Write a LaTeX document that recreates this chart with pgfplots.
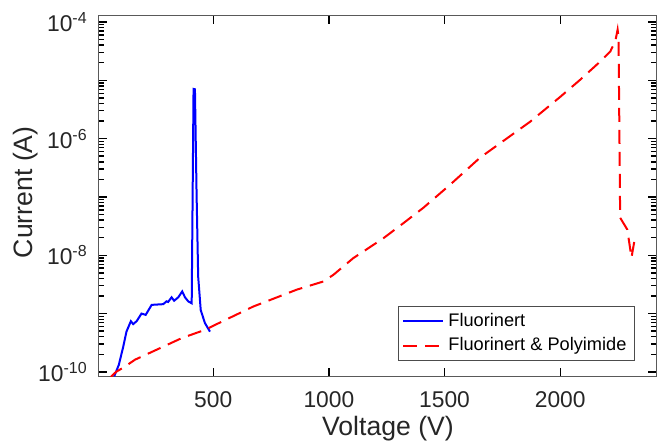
\documentclass[border=0pt]{standalone}
\usepackage{pgfplots}
\pgfplotsset{compat=1.18}
\usepackage{fontspec}
\setmainfont{Liberation Sans}
\definecolor{axgray}{RGB}{38,38,38}
\definecolor{mblue}{RGB}{0,0,255}
\definecolor{mred}{RGB}{255,0,0}
\begin{document}
\begin{tikzpicture}
\begin{axis}[name=ax,
  scale only axis, width=278.65pt, height=180.15pt,
  ymode=log,
  xmin=5, xmax=2414, ymin=8.5e-11, ymax=1.28e-4,
  xtick={500,1000,1500,2000},
  ytick={1e-10,1e-9,1e-8,1e-7,1e-6,1e-5,1e-4},
  yticklabels={10\textsuperscript{-10},,10\textsuperscript{-8},,10\textsuperscript{-6},,10\textsuperscript{-4}},
  minor ytick={2e-10,3e-10,4e-10,5e-10,6e-10,7e-10,8e-10,9e-10,
    2e-9,3e-9,4e-9,5e-9,6e-9,7e-9,8e-9,9e-9,
    2e-8,3e-8,4e-8,5e-8,6e-8,7e-8,8e-8,9e-8,
    2e-7,3e-7,4e-7,5e-7,6e-7,7e-7,8e-7,9e-7,
    2e-6,3e-6,4e-6,5e-6,6e-6,7e-6,8e-6,9e-6,
    2e-5,3e-5,4e-5,5e-5,6e-5,7e-5,8e-5,9e-5},
  /pgf/number format/assume math mode=true,
  /pgf/number format/1000 sep={},
  axis line style={draw=black!65, line width=0.5pt},
  major tick length=4pt, minor tick length=2.5pt,
  tick style={draw=black, line width=0.7pt},
  tick pos=both,
  tick align=inside,
  tick label style={font=\fontsize{11.4}{13}\selectfont, text=axgray},
  xticklabel style={yshift=-4pt},
  yticklabel style={xshift=-2pt},
  label style={font=\fontsize{13.3}{16}\selectfont, text=axgray},
  xlabel={Voltage (V)},
  ylabel={Current (A)},
  xlabel style={at={(axis description cs:0.519,-0.147)}, anchor=center},
  ylabel style={at={(axis description cs:-0.132,0.51)}, anchor=center},
  legend style={at={(axis description cs:0.962,0.0416)}, anchor=south east,
    draw=black!70, fill=white, font=\fontsize{9.1}{11}\selectfont,
    inner xsep=2pt, inner ysep=1.5pt, row sep=0pt},
  legend cell align=left,
  legend image code/.code={\draw[#1] (0pt,0pt) -- (20pt,0pt);},
]
\addplot[mblue, line width=1pt] coordinates {
(72,8.4e-11) (92,1.32e-10) (111,2.7e-10) (125,4.9e-10) (144,7.4e-10)
(154,6.6e-10) (169,7.4e-10) (190,1.0e-9) (208,9.5e-10) (234,1.41e-9)
(284,1.45e-9) (298,1.62e-9) (305,1.58e-9) (320,1.9e-9) (331,1.66e-9)
(349,1.9e-9) (366,2.4e-9) (378,1.9e-9) (392,1.62e-9) (407,1.5e-9)
(415,7.1e-6) (421,7.0e-6) (428,1.17e-7) (435,4.3e-9) (446,1.15e-9)
(464,6.9e-10) (486,4.9e-10)
};
\addlegendentry{Fluorinert}
\addplot[mred, line width=1pt, dash pattern=on 7pt off 4pt] coordinates {
(57,8.2e-11) (80,1.0e-10) (118,1.23e-10) (162,1.62e-10) (212,2.0e-10)
(277,2.63e-10) (364,3.8e-10) (464,5.25e-10) (522,6.8e-10) (673,1.32e-9)
(861,2.57e-9) (976,3.55e-9) (1019,4.6e-9) (1105,8.9e-9) (1235,1.95e-8)
(1322,3.55e-8) (1408,6.5e-8) (1524,1.62e-7) (1653,4.7e-7) (1870,1.95e-6)
(2000,5.2e-6) (2086,1.02e-5) (2173,2.1e-5) (2216,3.1e-5) (2238,4.7e-5)
(2242,5.6e-5) (2248,7.4e-5) (2252,5.5e-5) (2256,1e-6) (2259,4.4e-8)
(2290,2.75e-8) (2308,9.1e-9) (2321,1.8e-8)
};
\addlegendentry{Fluorinert \& Polyimide}
\end{axis}
\pgfresetboundingbox
\path[use as bounding box] ([xshift=-49.35pt,yshift=-34.5pt]ax.south west) rectangle ([xshift=0.5pt,yshift=7.85pt]ax.north east);
\end{tikzpicture}
\end{document}
